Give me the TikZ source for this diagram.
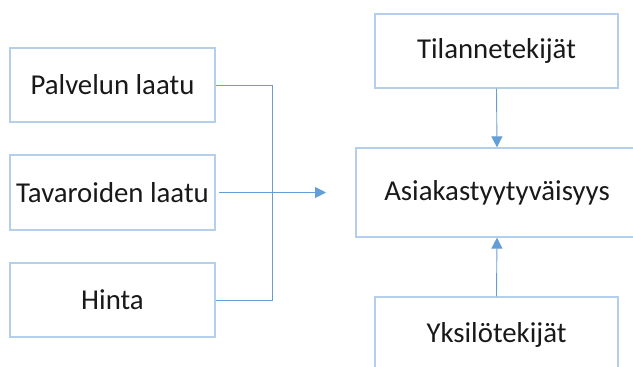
\documentclass[tikz,border=0pt]{standalone}
\usepackage{fontspec}
\setmainfont{Carlito}
\usetikzlibrary{arrows.meta}
\usetikzlibrary{positioning}

\definecolor{boxline}{RGB}{180,207,235}
\definecolor{linkline}{RGB}{100,158,215}

\tikzset{
  factor/.style={draw=boxline, line width=1.3pt, fill=white, align=center,
    font=\fontsize{28.8}{34}\selectfont, text=black!90, inner sep=0pt},
  link/.style={draw=linkline, line width=0.9pt},
  linkarrow/.style={link, -{Triangle[length=11pt,width=11pt]}}
}

\begin{document}
\begin{tikzpicture}[x=1pt,y=-1pt]

\useasboundingbox (0,0) rectangle (633,367);
\clip (0,0) rectangle (633,367);

% left column
\node[factor, minimum width=205pt, minimum height=74pt] (palvelu) at (112.5,85) {Palvelun laatu};
\node[factor, minimum width=205pt, minimum height=75pt] (tavara) at (112.5,192.5) {Tavaroiden laatu};
\node[factor, minimum width=205pt, minimum height=74pt] (hinta) at (112.5,300) {Hinta};

% right column
\node[factor, minimum width=243pt, minimum height=74pt] (tilanne) at (496.5,51) {Tilannetekijät};
\node[factor, minimum width=282pt, minimum height=89pt] (asiakas) at (497,192.5) {Asiakastyytyväisyys};
\node[factor, minimum width=243pt, minimum height=76pt] (yksilo) at (496.5,335) {Yksilötekijät};

% bracket
\coordinate (kulma1) at (272,85);
\coordinate (kulma2) at (272,300);
\coordinate (karki) at (326,192.5);
\draw[link] (palvelu.east) -- (kulma1) -- (kulma2) -- (hinta.east);
\draw[linkarrow] ([xshift=3pt]tavara.east) -- (karki);

% vertical arrows
\draw[linkarrow] (tilanne.south) -- (asiakas.north);
\draw[linkarrow] (yksilo.north) -- (asiakas.south);
\end{tikzpicture}
\end{document}
